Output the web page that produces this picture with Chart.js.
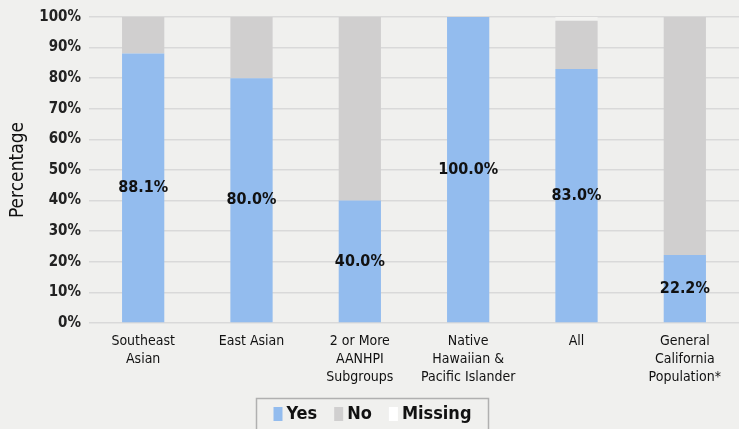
<!DOCTYPE html>
<html>
<head>
<meta charset="utf-8">
<script src="https://cdn.jsdelivr.net/npm/chart.js@4"></script>
<style>
  html, body { margin: 0; padding: 0; background: #f0f0ee; }
  #wrap { width: 739px; height: 429px; position: relative; }
</style>
</head>
<body>
<div id="wrap"><canvas id="chart" width="739" height="429"></canvas></div>
<script>
// data
const categories = [
    ['Southeast', 'Asian'],
    ['East Asian'],
    ['2 or More', 'AANHPI', 'Subgroups'],
    ['Native', 'Hawaiian &', 'Pacific Islander'],
    ['All'],
    ['General', 'California', 'Population*']
];
const yesValues = [88.1, 80.0, 40.0, 100.0, 83.0, 22.2];
const noValues = [11.9, 20.0, 60.0, 0, 15.8, 77.8];
const missingValues = [0, 0, 0, 0, 1.2, 0];
const yTicks = [0, 10, 20, 30, 40, 50, 60, 70, 80, 90, 100];

const FONT = "'Liberation Sans Narrow', 'DejaVu Sans Condensed', sans-serif";
const BG = '#f0f0ee';
const legendColors = ['#93bcee', '#d0cfcf', '#ffffff'];

// background, values inside the yes bars, boxed legend
const labelPlugin = {
    id: 'labels',
    beforeDraw(chart) {
        const ctx = chart.ctx;
        ctx.save();
        ctx.fillStyle = BG;
        ctx.fillRect(0, 0, chart.width, chart.height);
        ctx.restore();
    },
    afterDatasetsDraw(chart) {
        const ctx = chart.ctx;
        const meta = chart.getDatasetMeta(0);
        ctx.save();
        ctx.font = 'bold 16px ' + FONT;
        ctx.fillStyle = '#111';
        ctx.textAlign = 'center';
        ctx.textBaseline = 'middle';
        meta.data.forEach((bar, i) => {
            const y = (bar.y + bar.base) / 2;
            ctx.fillText(yesValues[i].toFixed(1) + '%', bar.x, y);
        });
        ctx.restore();
    },
    afterDraw(chart) {
        const ctx = chart.ctx;
        const sets = chart.data.datasets;
        ctx.save();
        ctx.font = 'bold 18px ' + FONT;
        ctx.textBaseline = 'middle';
        const sw = 9, gap = 4, itemGap = 17, padX = 17;
        let total = 0;
        sets.forEach((d, i) => {
            total += sw + gap + ctx.measureText(d.label).width;
            if (i < sets.length - 1) total += itemGap;
        });
        const boxW = total + padX * 2;
        const boxX = Math.round(372 - boxW / 2) + 0.5;
        const boxY = 398.5;
        ctx.strokeStyle = '#b0b0b0';
        ctx.lineWidth = 1.5;
        ctx.strokeRect(boxX, boxY, boxW, 34);
        let x = boxX + padX;
        const cy = 414;
        sets.forEach((d, i) => {
            ctx.fillStyle = legendColors[i];
            ctx.fillRect(x, cy - 7, sw, 14);
            x += sw + gap;
            ctx.fillStyle = '#111';
            ctx.fillText(d.label, x, cy);
            x += ctx.measureText(d.label).width + itemGap;
        });
        ctx.restore();
    }
};

new Chart(document.getElementById('chart'), {
    type: 'bar',
    data: {
        labels: categories,
        datasets: [
            { label: 'Yes', data: yesValues, backgroundColor: '#93bcee' },
            { label: 'No', data: noValues, backgroundColor: '#d0cfcf' },
            { label: 'Missing', data: missingValues, backgroundColor: '#f3f3f1' }
        ]
    },
    options: {
        responsive: false,
        animation: false,
        layout: { padding: { top: 17, right: 0, left: 0, bottom: 0 } },
        datasets: { bar: { categoryPercentage: 1, barPercentage: 0.39 } },
        plugins: {
            legend: { display: false },
            tooltip: { enabled: false }
        },
        scales: {
            x: {
                stacked: true,
                grid: { display: false, drawTicks: false },
                border: { display: false },
                ticks: {
                    padding: 9,
                    color: '#111',
                    font: { family: FONT, size: 14, lineHeight: 1.3 },
                    maxRotation: 0,
                    autoSkip: false
                },
                afterFit(scale) { scale.height = 106; }
            },
            y: {
                stacked: true,
                min: 0,
                max: 100,
                afterBuildTicks(scale) { scale.ticks = yTicks.map(v => ({ value: v })); },
                grid: { color: '#d9d9d9', lineWidth: 1.5, drawTicks: false },
                border: { display: false },
                ticks: {
                    padding: 8,
                    color: '#222',
                    font: { family: FONT, size: 15, weight: 'bold' },
                    callback: v => v + '%'
                },
                title: {
                    display: true,
                    text: 'Percentage',
                    color: '#111',
                    font: { family: FONT, size: 19 },
                    padding: { top: 7, bottom: 0 }
                },
                afterFit(scale) { scale.width = 89; }
            }
        }
    },
    plugins: [labelPlugin]
});
</script>
</body>
</html>
